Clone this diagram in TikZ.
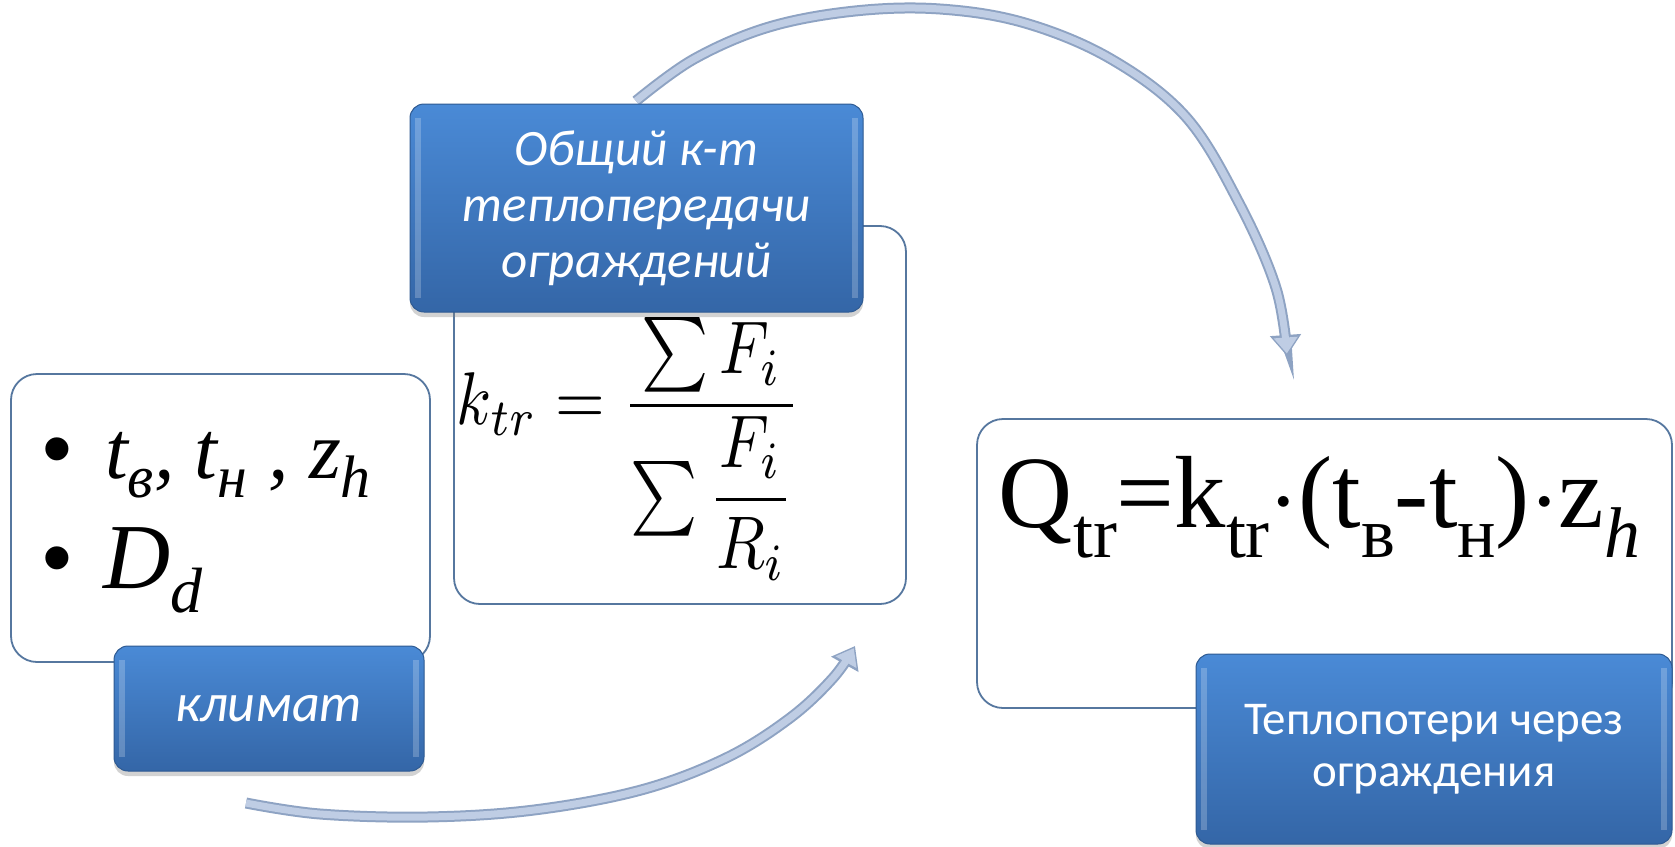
\documentclass[tikz,border=0pt]{standalone}
\usepackage{amsmath}
\usepackage{fontspec}
\usepackage{graphicx}
\usetikzlibrary{arrows.meta,shadows}
\newfontfamily\calib{Carlito}
\newfontfamily\tnr{Liberation Serif}
\newfontfamily\arl{Liberation Sans}
\definecolor{bbtop}{HTML}{4A8AD6}
\definecolor{bbbot}{HTML}{3466A7}
\definecolor{bbedge}{HTML}{2E5A92}
\definecolor{wbedge}{HTML}{56779F}
\definecolor{arrfill}{HTML}{BFCDE4}
\definecolor{arredge}{HTML}{8EA3C3}
\newcommand\lowsub[3]{\raisebox{-#1}{\fontsize{#2}{#2}\selectfont #3}}
\tikzset{
  whitebox/.style={draw=wbedge, line width=1.8pt, fill=white, rounded corners=26pt, inner sep=0pt},
  bluebox/.style={draw=bbedge, line width=1pt, top color=bbtop, bottom color=bbbot,
    rounded corners=14pt, text=white, align=center, inner sep=0pt,
    drop shadow={shadow xshift=0pt, shadow yshift=-5pt, opacity=0.35},
    path picture={
      \draw[white, opacity=0.22, line width=6pt]
        ([xshift=8pt,yshift=-14pt]path picture bounding box.north west) --
        ([xshift=8pt,yshift=14pt]path picture bounding box.south west);
      \draw[white, opacity=0.22, line width=6pt]
        ([xshift=-8pt,yshift=-14pt]path picture bounding box.north east) --
        ([xshift=-8pt,yshift=14pt]path picture bounding box.south east);
    }},
  arrowout/.style={draw=arredge, line width=11pt, -{Triangle[width=30pt,length=21pt]}},
  arrowin/.style={draw=arrfill, line width=7pt, -{Triangle[width=23pt,length=16pt]}, shorten >=2.5pt},
  formula/.style={inner sep=0pt, text=black},
  bulletmark/.style={inner sep=0pt, font=\arl\fontsize{85}{85}\selectfont, anchor=base}
}
\begin{document}
\begin{tikzpicture}[x=1pt,y=-1pt]
\useasboundingbox (0,0) rectangle (1675,846);
\fill[white] (0,0) rectangle (1675,846);

% connector coordinates
\coordinate (ta0) at (636,101);
\coordinate (ta1) at (1287,356);
\coordinate (ba0) at (246,803);
\coordinate (ba1) at (855,646);

% arrows
\draw[arrowout] plot[smooth,tension=0.6] coordinates {(ta0) (694,59) (769,27) (855,11) (940,9) (1025,23) (1111,59) (1186,117) (1239,203) (1276,288) (ta1)};
\draw[arrowin] plot[smooth,tension=0.6] coordinates {(ta0) (694,59) (769,27) (855,11) (940,9) (1025,23) (1111,59) (1186,117) (1239,203) (1276,288) (ta1)};
\draw[arrowout] plot[smooth,tension=0.6] coordinates {(ba0) (320,814) (427,817) (534,810) (641,790) (726,758) (790,718) (833,678) (ba1)};
\draw[arrowin] plot[smooth,tension=0.6] coordinates {(ba0) (320,814) (427,817) (534,810) (641,790) (726,758) (790,718) (833,678) (ba1)};

% white boxes
\node[whitebox, minimum width=419pt, minimum height=288pt] (wb1) at (220.5,518) {};
\node[whitebox, minimum width=452pt, minimum height=378pt] (wb2) at (680,415) {};
\node[whitebox, minimum width=695pt, minimum height=289pt] (wb3) at (1324.5,563.5) {};

% blue boxes
\node[bluebox, font=\calib\itshape\fontsize{54}{60}\selectfont, minimum width=310pt, minimum height=125pt] (bb1) at (269,708.5) {климат};
\node[bluebox, font=\calib\itshape\fontsize{51}{56}\selectfont, minimum width=453pt, minimum height=208pt] (bb2) at (636.5,208) {Общий к-т\\теплопередачи\\ограждений};
\node[bluebox, font=\calib\fontsize{47}{52}\selectfont, minimum width=476pt, minimum height=190pt] (bb4) at (1434,749) {Теплопотери через\\ограждения};

% box 1 contents
\node[bulletmark] (bu1) at (57,477) {•};
\node[bulletmark] (bu2) at (57,586) {•};
\node[formula, anchor=base west, font=\tnr\itshape\fontsize{82}{82}\selectfont] (l1) at (105,478)
  {t\lowsub{19pt}{60}{в}, t\lowsub{19pt}{60}{н} , z\lowsub{19pt}{60}{h}};
\node[formula, anchor=base west, font=\tnr\itshape\fontsize{93}{93}\selectfont] (l2) at (103,588)
  {D\lowsub{24pt}{64}{d}};

% box 2 formula
\node[formula] (f2) at (629,449)
  {\resizebox*{344pt}{262pt}{$k_{tr} = \dfrac{\sum F_i}{\sum\dfrac{F_i}{R_i}}$}};

% box 3 formula
\node[formula, anchor=base] (f3) at (1319.5,527)
  {\resizebox{641pt}{!}{\tnr Q\lowsub{3pt}{7}{tr}=k\lowsub{3pt}{7}{tr}$\cdot$(t\lowsub{3pt}{7}{в}-t\lowsub{3pt}{7}{н})$\cdot$z\lowsub{3pt}{7}{\itshape h}}};
\end{tikzpicture}
\end{document}
